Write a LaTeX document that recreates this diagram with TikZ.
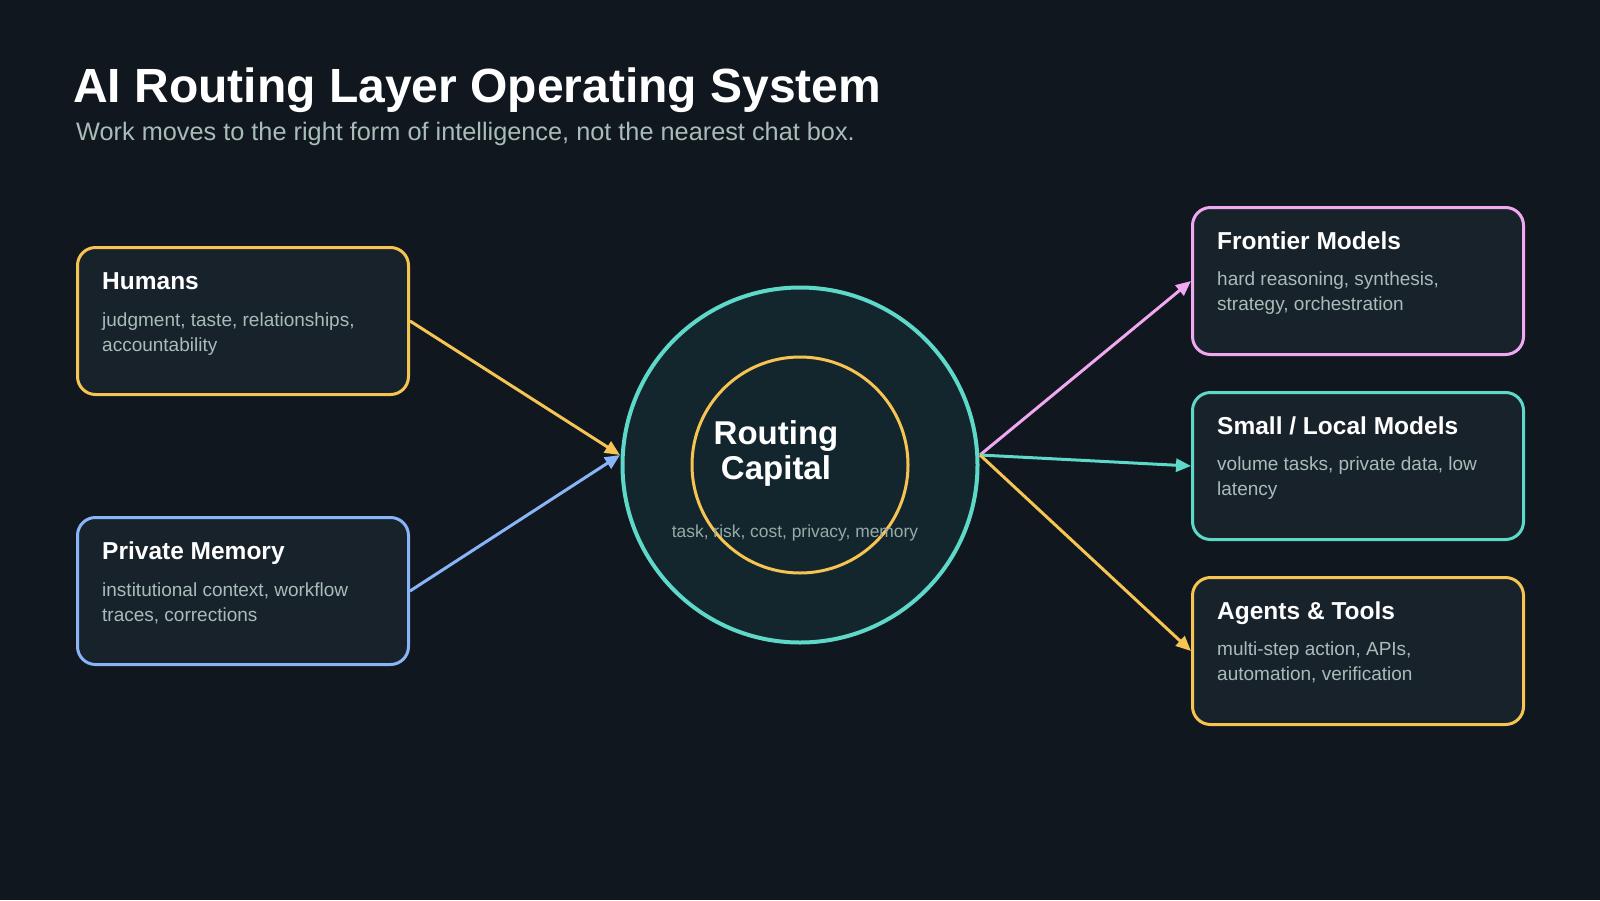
\documentclass[tikz,border=0pt]{standalone}
\usepackage{fontspec}
\setmainfont{Liberation Sans}
\usetikzlibrary{arrows.meta}

\definecolor{routeBackground}{RGB}{16,23,30}
\definecolor{routeCard}{RGB}{24,34,43}
\definecolor{routeHub}{RGB}{20,38,45}
\definecolor{routeGold}{RGB}{246,196,83}
\definecolor{routeTeal}{RGB}{94,216,200}
\definecolor{routePink}{RGB}{240,168,240}
\definecolor{routeBlue}{RGB}{138,180,248}
\definecolor{routeText}{RGB}{255,255,255}
\definecolor{routeMuted}{RGB}{168,188,184}
\definecolor{routeFaint}{RGB}{150,170,168}

\begin{document}
\begin{tikzpicture}[x=1pt,y=-1pt,
      headline/.style={font=\fontsize{48}{56}\selectfont\bfseries,
        text=routeText, anchor=base west, inner sep=0},
      subline/.style={font=\fontsize{25.3}{30}\selectfont,
        text=routeMuted, anchor=base west, inner sep=0},
      card/.style={draw=#1, fill=routeCard, rounded corners=18pt,
        line width=3pt, minimum width=331pt, minimum height=147pt,
        inner sep=0, anchor=north west},
      cardtitle/.style={font=\fontsize{24.5}{28}\selectfont\bfseries,
        text=routeText, anchor=base west, inner sep=0},
      cardline/.style={font=\fontsize{19}{22}\selectfont,
        text=routeMuted, anchor=base west, inner sep=0},
      hubtitle/.style={font=\fontsize{33}{38}\selectfont\bfseries,
        text=routeText, anchor=base, inner sep=0},
      hubnote/.style={font=\fontsize{17.4}{20}\selectfont,
        text=routeFaint, anchor=base, inner sep=0},
      route/.style={draw=#1, line width=3pt,
        -{Triangle[length=15pt,width=13pt]}}]
      \useasboundingbox (0,0) rectangle (1600,900);
      \fill[routeBackground] (0,0) rectangle (1600,900);

      \node[headline] (title) at (73,102) {AI Routing Layer Operating System};
      \node[subline] (subtitle) at (76,140)
        {Work moves to the right form of intelligence, not the nearest chat box.};

      % centre
      \node[circle, draw=routeTeal, fill=routeHub, line width=4pt,
        minimum size=355pt, inner sep=0] (hub) at (800,465) {};
      \node[circle, draw=routeGold, line width=3pt,
        minimum size=216pt, inner sep=0] (core) at (800,465) {};
      \node[hubtitle] (hubA) at (776,444) {Routing};
      \node[hubtitle] (hubB) at (776,479) {Capital};
      \node[hubnote] (hubC) at (795,537) {task, risk, cost, privacy, memory};
      \coordinate (hubin) at (620,455);
      \coordinate (hubout) at (980,455);

      % sources
      \node[card=routeGold] (humans) at (76,246) {};
      \node[cardtitle] at (102,289) {Humans};
      \node[cardline] at (102,326) {judgment, taste, relationships,};
      \node[cardline] at (102,351) {accountability};

      \node[card=routeBlue] (memory) at (76,516) {};
      \node[cardtitle] at (102,559) {Private Memory};
      \node[cardline] at (102,596) {institutional context, workflow};
      \node[cardline] at (102,621) {traces, corrections};

      % targets
      \node[card=routePink] (frontier) at (1191,206) {};
      \node[cardtitle] at (1217,249) {Frontier Models};
      \node[cardline] at (1217,285) {hard reasoning, synthesis,};
      \node[cardline] at (1217,310) {strategy, orchestration};

      \node[card=routeTeal] (local) at (1191,391) {};
      \node[cardtitle] at (1217,434) {Small / Local Models};
      \node[cardline] at (1217,470) {volume tasks, private data, low};
      \node[cardline] at (1217,495) {latency};

      \node[card=routeGold] (agents) at (1191,576) {};
      \node[cardtitle] at (1217,619) {Agents \& Tools};
      \node[cardline] at (1217,655) {multi-step action, APIs,};
      \node[cardline] at (1217,680) {automation, verification};

      \draw[route=routeGold] (humans.east) -- (hubin);
      \draw[route=routeBlue] (memory.east) -- (hubin);
      \draw[route=routePink] (hubout) -- (frontier.west);
      \draw[route=routeTeal] (hubout) -- (local.west);
      \draw[route=routeGold] (hubout) -- (agents.west);
    \end{tikzpicture}
\end{document}
